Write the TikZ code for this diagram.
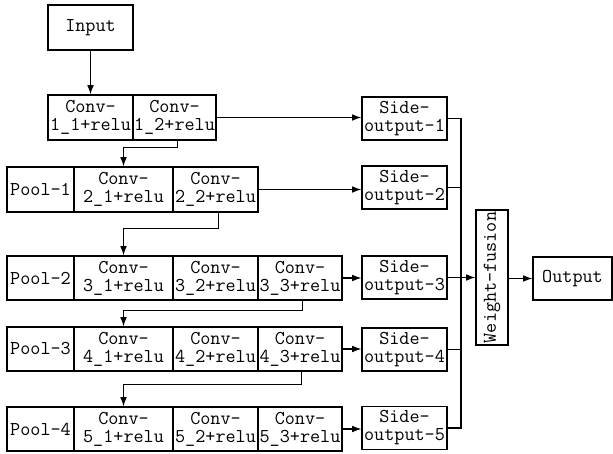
\documentclass[tikz,border=0pt]{standalone}
\usepackage{fontspec}
\usetikzlibrary{arrows.meta}
\begin{document}
\begin{tikzpicture}[x=0.75pt,y=-0.75pt,>={Latex[length=7pt,width=5pt]},line width=0.8pt,
	font=\ttfamily\fontsize{14.7}{13.5}\selectfont,
	blk/.style={draw,inner sep=0pt,align=center,minimum height=33pt},
	pool/.style={blk,minimum width=50.25pt},
	convA/.style={blk,minimum width=74.25pt},
	convB/.style={blk,minimum width=63.75pt},
	convC/.style={blk,minimum width=63pt},
	side/.style={blk,minimum width=63.75pt,minimum height=32.25pt}]
	\useasboundingbox (0,0) rectangle (613,453);
	\node[blk,minimum width=63.75pt,minimum height=33.75pt] (in) at (90.5,27.5) {Input};
	% block 1
	\node[blk,minimum width=63.75pt,minimum height=33.75pt] (c11) at (90.5,117.5) {Conv-\\1\_1+relu};
	\node[blk,minimum width=62.25pt,minimum height=33.75pt] (c12) at (174.5,117.5) {Conv-\\1\_2+relu};
	% block 2
	\node[pool,minimum height=33.75pt] (p2) at (40.5,189.5) {Pool-1};
	\node[convA,minimum height=33.75pt] (c21) at (123.5,189.5) {Conv-\\2\_1+relu};
	\node[convB,minimum height=33.75pt] (c22) at (215.5,189.5) {Conv-\\2\_2+relu};
	% blocks 3-5
	\foreach \r/\y in {3/278,4/349,5/429}{
		\pgfmathtruncatemacro{\p}{\r-1}
		\node[pool] (p\r) at (40.5,\y) {Pool-\p};
		\node[convA] (c\r1) at (123.5,\y) {Conv-\\\r\_1+relu};
		\node[convB] (c\r2) at (215.5,\y) {Conv-\\\r\_2+relu};
		\node[convC] (c\r3) at (300,\y) {Conv-\\\r\_3+relu};
	}
	% side outputs
	\node[side] (s1) at (404.5,118.5) {Side-\\output-1};
	\node[side] (s2) at (404.5,187.5) {Side-\\output-2};
	\node[side] (s3) at (404.5,277.5) {Side-\\output-3};
	\node[side] (s4) at (404.5,349.5) {Side-\\output-4};
	\node[side] (s5) at (404.5,428) {Side-\\output-5};
	\node[blk,minimum width=24pt,minimum height=101.25pt] (wf) at (492,277.5) {\rotatebox{90}{Weight-fusion}};
	\node[blk,minimum width=59.25pt,minimum height=32.25pt] (out) at (572.5,278.5) {Output};
	\coordinate (bus) at (461,0);
	% main path
	\draw[->] (in) -- (c11);
	\draw[->] ([xshift=2pt]c12.south) -- ++(0,7) -| (c21.north);
	\draw[->] ([xshift=2pt]c22.south) -- ++(0,16) -| (c31.north);
	\draw[->] ([xshift=2pt]c33.south) -- ++(0,10) -| (c41.north);
	\draw[->] ([xshift=1pt]c43.south) -- ++(0,13) -| (c51.north);
	% to side outputs
	\draw[->] (c12.east) -- (c12.east -| s1.west);
	\draw[->] (c22.east) -- (c22.east -| s2.west);
	\draw[->] (c33.east) -- (c33.east -| s3.west);
	\draw[->] (c43.east) -- (c43.east -| s4.west);
	\draw[->] (c53.east) -- (c53.east -| s5.west);
	% fusion
	\draw (s1.east) -- (s1.east -| bus) -- (s5.east -| bus) -- (s5.east);
	\draw (s2.east) -- (s2.east -| bus);
	\draw (s4.east) -- (s4.east -| bus);
	\draw[->] (s3.east) -- (s3.east -| wf.west);
	\draw[->] (wf.east |- out.west) -- (out.west);
\end{tikzpicture}
\end{document}
